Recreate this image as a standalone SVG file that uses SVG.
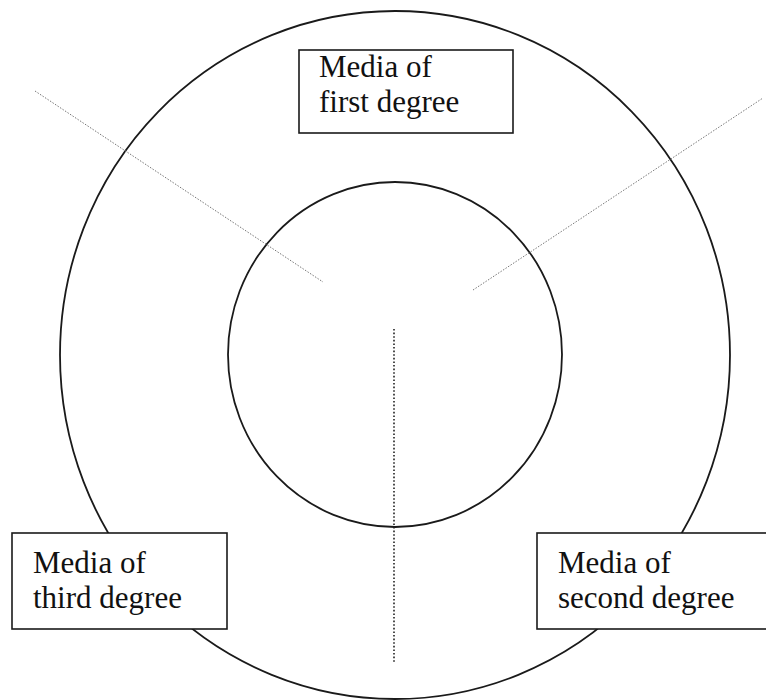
<svg xmlns="http://www.w3.org/2000/svg" width="766" height="700" viewBox="0 0 766 700">
<style>
.ring{fill:none;stroke:#1a1a1a;stroke-width:1.8}
.box{fill:#fff;stroke:#1a1a1a;stroke-width:1.6}
.lbl{font-family:"Liberation Serif","Times New Roman",serif;font-size:31px;fill:#111}
.ray{fill:none;stroke:#777;stroke-width:1;stroke-dasharray:1.5 1.5}
.stem{fill:none;stroke:#222;stroke-width:1.6;stroke-dasharray:1.6 2}
</style>
<rect width="766" height="700" fill="#fff"/>
<g id="rings">
<ellipse class="ring" cx="395" cy="355" rx="335" ry="344"/>
<ellipse class="ring" cx="395" cy="354.5" rx="167" ry="172.5"/>
</g>
<g id="connectors">
<line class="ray" x1="35" y1="91" x2="323" y2="282"/>
<line class="ray" x1="473" y1="290" x2="763" y2="98"/>
<line class="stem" x1="394" y1="329" x2="394" y2="663"/>
</g>
<g id="first">
<rect class="box" x="299" y="50" width="214" height="83"/>
<text class="lbl" x="319" y="77">Media of</text>
<text class="lbl" x="319" y="112">first degree</text>
</g>
<g id="third">
<rect class="box" x="12" y="533" width="215" height="96"/>
<text class="lbl" x="33" y="573">Media of</text>
<text class="lbl" x="33" y="608">third degree</text>
</g>
<g id="second">
<rect class="box" x="537" y="533" width="240" height="96"/>
<text class="lbl" x="558" y="573">Media of</text>
<text class="lbl" x="558" y="608">second degree</text>
</g>
</svg>
